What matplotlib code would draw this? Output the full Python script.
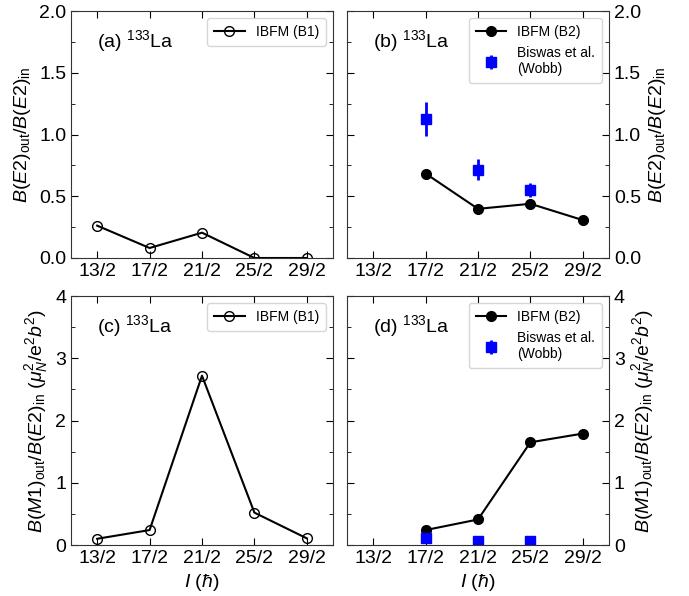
import matplotlib
matplotlib.use("Agg")
import matplotlib.pyplot as plt
from matplotlib.ticker import MultipleLocator

plt.rcParams['font.family'] = ['Liberation Sans', 'DejaVu Sans']
plt.rcParams['mathtext.fontset'] = 'custom'
plt.rcParams['mathtext.rm'] = 'Liberation Sans'
plt.rcParams['mathtext.it'] = 'Liberation Sans:italic'
plt.rcParams['mathtext.bf'] = 'Liberation Sans:bold'

spins = ["13/2", "17/2", "21/2", "25/2", "29/2"]

# (a) B(E2) ratio, IBFM (B1)
e2_b1 = [0.262, 0.081, 0.205, 0.0, 0.0]
# (b) B(E2) ratio, IBFM (B2) at 17/2..29/2
e2_b2_idx = [1, 2, 3, 4]
e2_b2 = [0.684, 0.398, 0.439, 0.307]
# Experiment (Biswas et al., Wobb)
exp_idx = [1, 2, 3]
e2_exp = [1.125, 0.716, 0.549]
e2_exp_err = [0.137, 0.083, 0.055]
# (c) B(M1)/B(E2), IBFM (B1)
m1_b1 = [0.10, 0.24, 2.72, 0.52, 0.107]
# (d) B(M1)/B(E2), IBFM (B2)
m1_b2 = [0.24, 0.41, 1.65, 1.79]
m1_exp = [0.12, 0.07, 0.06]
m1_exp_err = [0.02, 0.01, 0.01]

fig = plt.figure(figsize=(6.89, 5.96), dpi=100)
W, H = 689, 596
def ax_at(l, t, r, b):
    return fig.add_axes([l / W, 1 - b / H, (r - l) / W, (b - t) / H])

axa = ax_at(71, 11, 333, 258)
axb = ax_at(347, 11, 609, 258)
axc = ax_at(71, 296, 333, 545)
axd = ax_at(347, 296, 609, 545)

x = list(range(len(spins)))
ylab_e2 = r'$B(E2)_{\rm out}/B(E2)_{\rm in}$'
ylab_m1 = r'$B(M1)_{\rm out}/B(E2)_{\rm in}$ $(\mu_N^2/{\rm e}^2b^2)$'
FS = 14

for ax in (axa, axb, axc, axd):
    ax.set_xlim(-0.5, 4.5)
    ax.set_xticks(x)
    ax.set_xticklabels(spins)
    ax.tick_params(which='both', direction='in', top=True, bottom=True, left=True, right=True,
                   labelsize=FS)
    ax.tick_params(which='major', length=5)
    ax.tick_params(which='minor', length=3)
    for s in ax.spines.values():
        s.set_color('#333333')

for ax in (axa, axb):
    ax.set_ylim(0, 2.0)
    ax.yaxis.set_major_locator(MultipleLocator(0.5))
    ax.yaxis.set_minor_locator(MultipleLocator(0.25))
    ax.yaxis.set_major_formatter(matplotlib.ticker.FormatStrFormatter('%.1f'))
for ax in (axc, axd):
    ax.set_ylim(0, 4)
    ax.yaxis.set_major_locator(MultipleLocator(1))
    ax.yaxis.set_minor_locator(MultipleLocator(0.5))

for ax in (axb, axd):
    ax.yaxis.tick_right()
    ax.yaxis.set_label_position('right')
    ax.tick_params(which='both', left=True, right=True, labelleft=False, labelright=True)

leg_kw = dict(loc='upper right', fontsize=10, handlelength=2.2, borderpad=0.5)

# (a)
axa.plot(x, e2_b1, '-o', color='black', mfc='none', ms=7, lw=1.5, label='IBFM (B1)')
axa.set_ylabel(ylab_e2, fontsize=FS)
axa.text(0.1, 0.93, r'(a) $^{133}$La', transform=axa.transAxes, fontsize=FS, va='top')
axa.legend(**leg_kw)

# (b)
axb.plot(e2_b2_idx, e2_b2, '-o', color='black', ms=7, lw=1.5, label='IBFM (B2)')
axb.errorbar(exp_idx, e2_exp, yerr=e2_exp_err, fmt='s', color='blue', ms=7, elinewidth=2,
             capsize=0, label='Biswas et al.\n(Wobb)')
axb.set_ylabel(ylab_e2, fontsize=FS)
axb.text(0.1, 0.93, r'(b) $^{133}$La', transform=axb.transAxes, fontsize=FS, va='top')
axb.legend(**leg_kw)

# (c)
axc.plot(x, m1_b1, '-o', color='black', mfc='none', ms=7, lw=1.5, label='IBFM (B1)')
axc.set_ylabel(ylab_m1, fontsize=FS)
axc.set_xlabel(r'$I$ ($\hbar$)', fontsize=FS)
axc.text(0.1, 0.93, r'(c) $^{133}$La', transform=axc.transAxes, fontsize=FS, va='top')
axc.legend(**leg_kw)

# (d)
axd.plot(e2_b2_idx, m1_b2, '-o', color='black', ms=7, lw=1.5, label='IBFM (B2)')
axd.errorbar(exp_idx, m1_exp, yerr=m1_exp_err, fmt='s', color='blue', ms=7, elinewidth=2,
             capsize=0, label='Biswas et al.\n(Wobb)')
axd.set_ylabel(ylab_m1, fontsize=FS)
axd.set_xlabel(r'$I$ ($\hbar$)', fontsize=FS)
axd.text(0.1, 0.93, r'(d) $^{133}$La', transform=axd.transAxes, fontsize=FS, va='top')
axd.legend(**leg_kw)

fig.savefig('out.png', dpi=100)
